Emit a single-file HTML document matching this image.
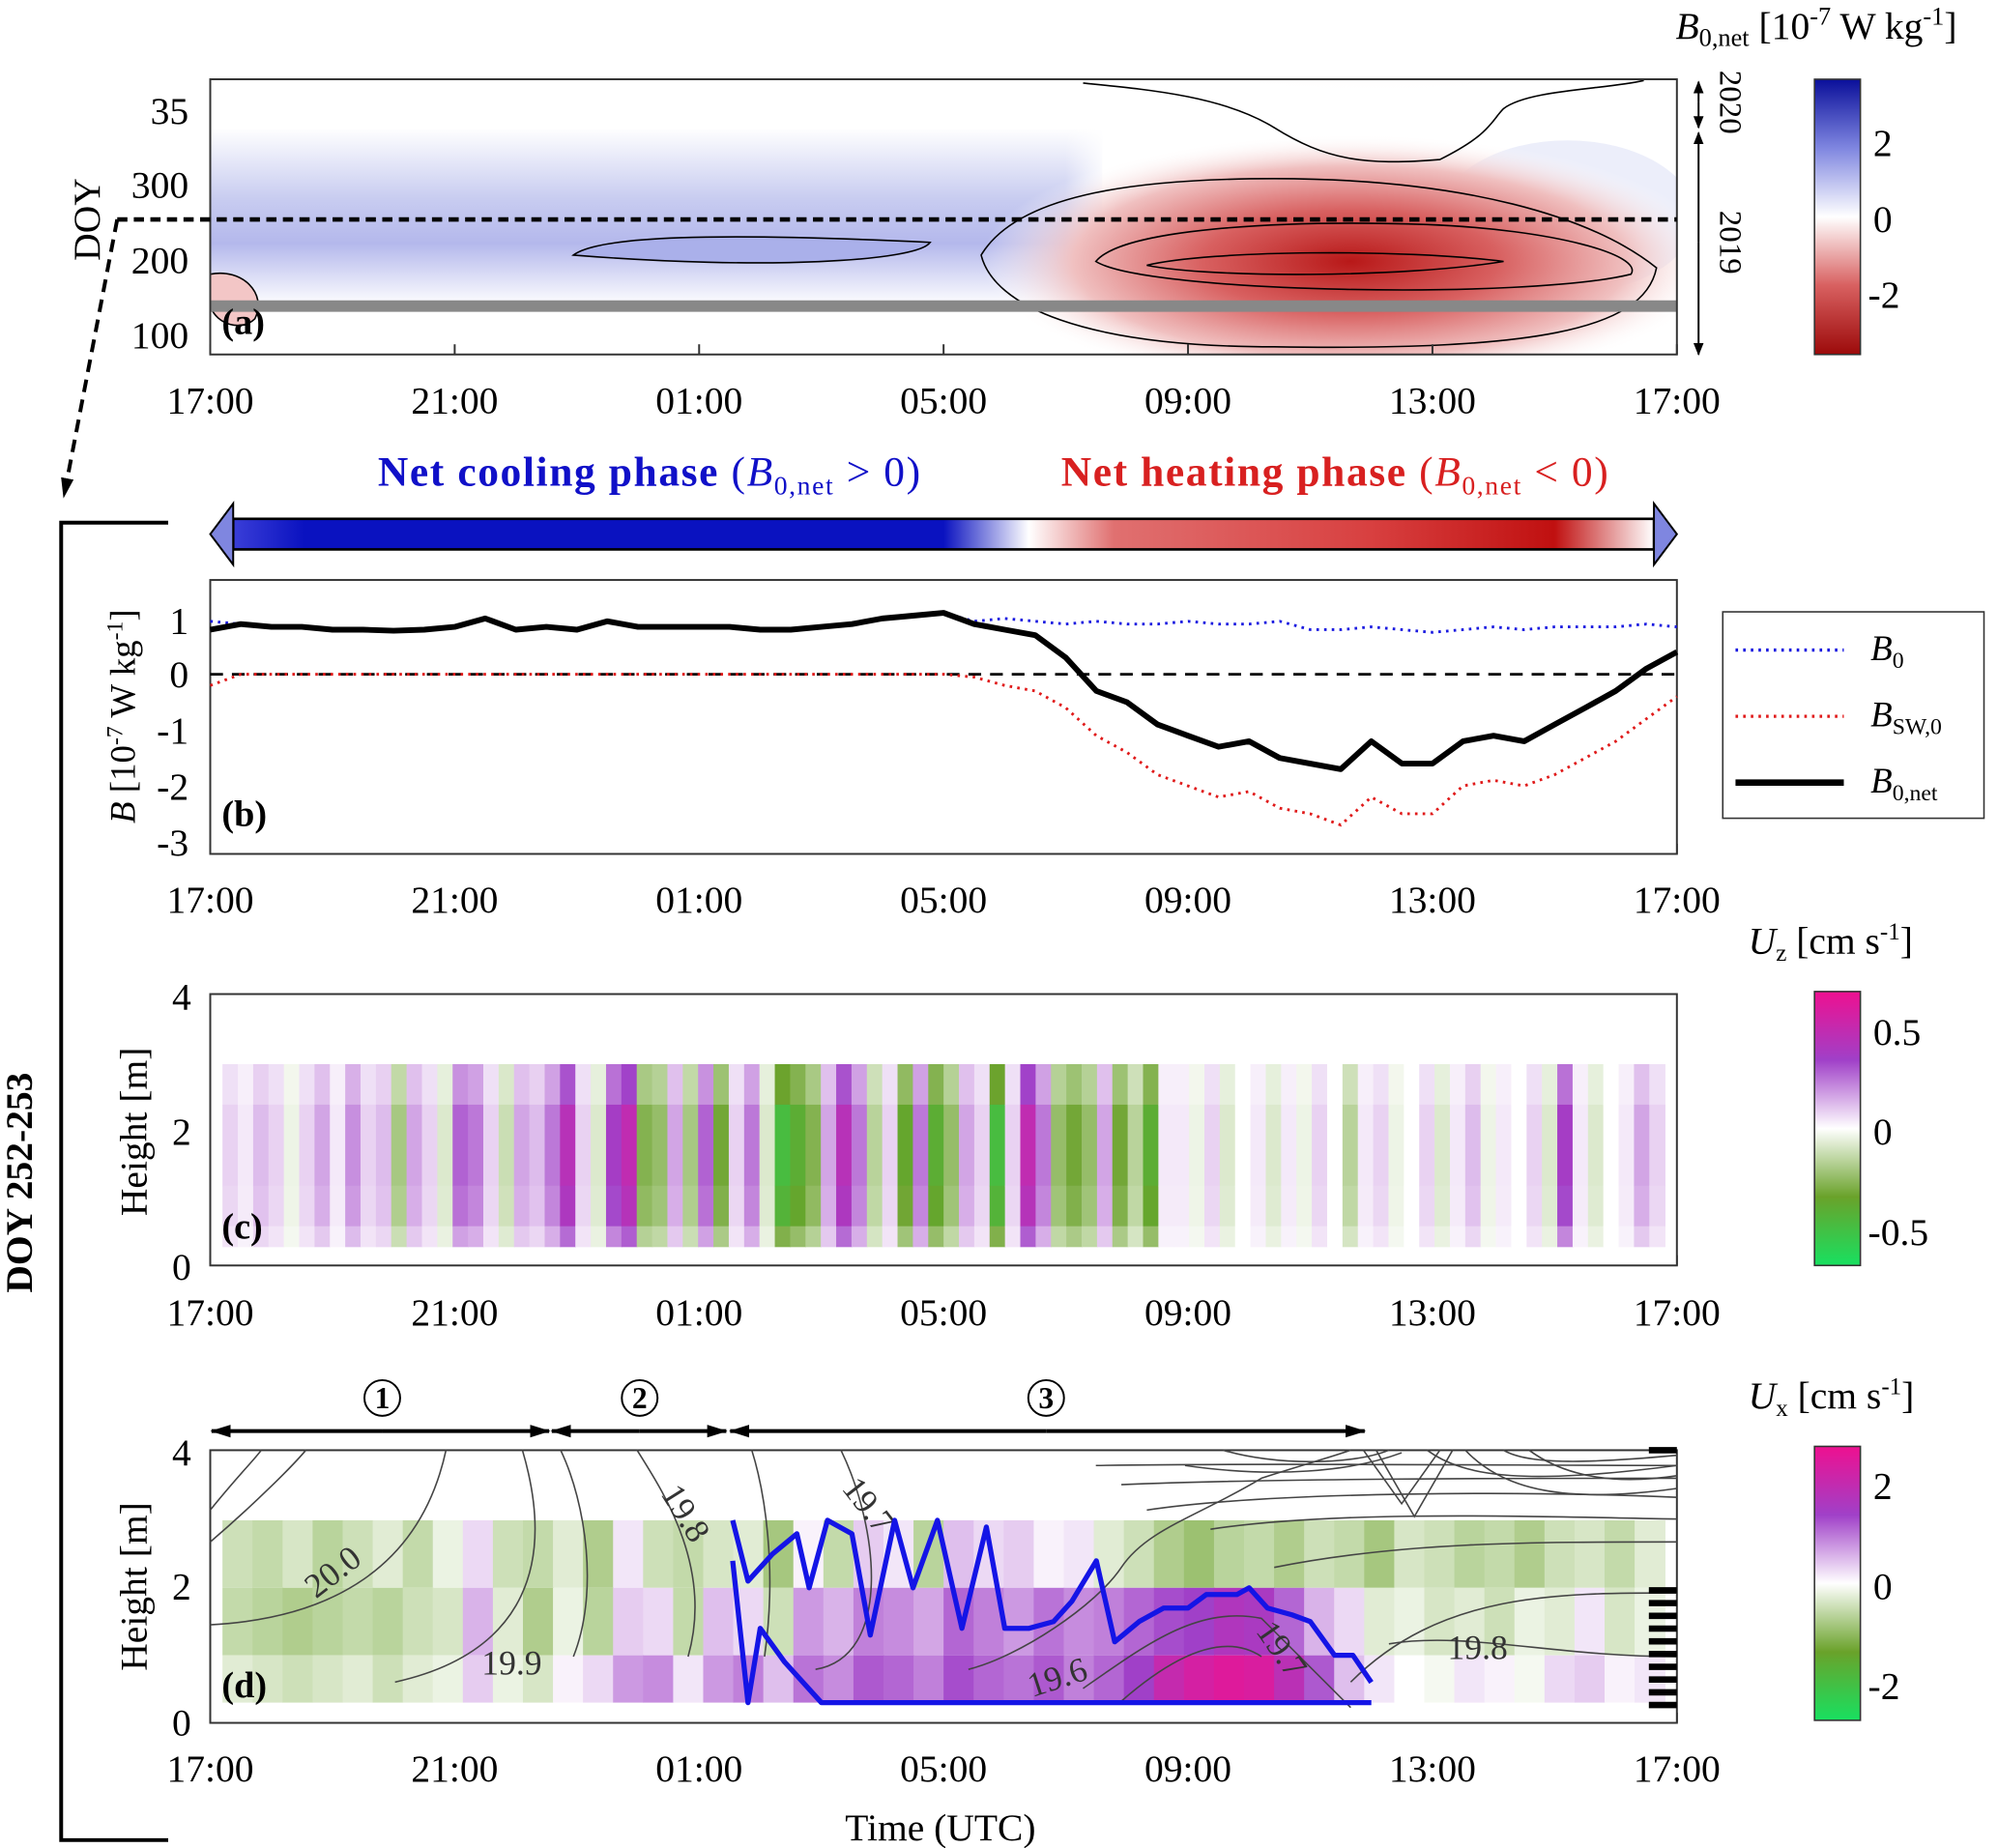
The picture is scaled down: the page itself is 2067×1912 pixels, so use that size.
<!DOCTYPE html>
<html><head><meta charset="utf-8"><style>
html,body{margin:0;padding:0;background:#fff}
svg{display:block;font-family:"Liberation Serif","DejaVu Serif",serif}
</style></head><body>
<svg id="fig" width="2067" height="1912" viewBox="0 0 1568 1450" xmlns="http://www.w3.org/2000/svg">
<defs>
<linearGradient id="cbB" x1="0" y1="1" x2="0" y2="0"><stop offset="0" stop-color="#9c0a0a"/><stop offset="0.25" stop-color="#d86060"/><stop offset="0.5" stop-color="#ffffff"/><stop offset="0.75" stop-color="#7f86e0"/><stop offset="1" stop-color="#0a0f9a"/></linearGradient>
<linearGradient id="cbU" x1="0" y1="1" x2="0" y2="0"><stop offset="0" stop-color="#18e060"/><stop offset="0.25" stop-color="#6aa22a"/><stop offset="0.5" stop-color="#ffffff"/><stop offset="0.75" stop-color="#a040c8"/><stop offset="1" stop-color="#ee1090"/></linearGradient>
<linearGradient id="phase" x1="0" y1="0" x2="1" y2="0"><stop offset="0" stop-color="#3a3ed8"/><stop offset="0.05" stop-color="#0a12c0"/><stop offset="0.5" stop-color="#0a12c0"/><stop offset="0.56" stop-color="#fff"/><stop offset="0.62" stop-color="#e07070"/><stop offset="0.8" stop-color="#d84040"/><stop offset="0.93" stop-color="#c01010"/><stop offset="1" stop-color="#fff"/></linearGradient>
<radialGradient id="redBlob" cx="0.5" cy="0.5" r="0.5"><stop offset="0" stop-color="#b81818"/><stop offset="0.4" stop-color="#d86060"/><stop offset="0.75" stop-color="#f0c0c0"/><stop offset="1" stop-color="#fff" stop-opacity="0"/></radialGradient>
<linearGradient id="blueBand" x1="0" y1="0" x2="0" y2="1"><stop offset="0" stop-color="#fff"/><stop offset="0.4" stop-color="#c8ccf0"/><stop offset="0.65" stop-color="#b4b8ec"/><stop offset="1" stop-color="#fff"/></linearGradient>
<linearGradient id="blueFade" x1="0" y1="0" x2="1" y2="0"><stop offset="0" stop-color="#fff" stop-opacity="0"/><stop offset="0.8" stop-color="#fff" stop-opacity="0"/><stop offset="1" stop-color="#fff" stop-opacity="1"/></linearGradient>
<radialGradient id="pinkTop" cx="0.5" cy="0" r="0.6"><stop offset="0" stop-color="#f6d2d2"/><stop offset="1" stop-color="#fff" stop-opacity="0"/></radialGradient>
<clipPath id="clipA"><rect x="165" y="62" width="1151" height="216"/></clipPath>
<marker id="ah" markerUnits="userSpaceOnUse" markerWidth="16" markerHeight="12" refX="15" refY="6" orient="auto"><path d="M0,1 L16,6 L0,11 Z" fill="#000"/></marker>
<marker id="ahs" markerUnits="userSpaceOnUse" markerWidth="10" markerHeight="10" refX="9" refY="5" orient="auto"><path d="M0,1 L10,5 L0,9 Z" fill="#000"/></marker>
</defs>

<g>
 <g clip-path="url(#clipA)">
  <rect x="165" y="62" width="1151" height="216" fill="#fff"/>
  <rect x="165" y="100" width="700" height="140" fill="url(#blueBand)"/>
  <rect x="700" y="100" width="170" height="140" fill="url(#blueFade)"/>
  <ellipse cx="1230" cy="170" rx="100" ry="60" fill="#eceefa"/>
  <ellipse cx="1080" cy="62" rx="260" ry="70" fill="url(#pinkTop)"/>
  <ellipse cx="1060" cy="205" rx="290" ry="100" fill="url(#redBlob)"/>
  <path d="M450,200 C470,185 560,182 730,190 C720,205 600,212 450,200 Z" fill="#aab0ea" stroke="#000" stroke-width="1.2"/>
  <path d="M770,200 C800,150 900,140 1000,140 C1150,140 1250,170 1300,210 C1290,260 1200,275 1000,272 C850,272 780,240 770,200 Z" fill="none" stroke="#000" stroke-width="1.2"/>
  <path d="M860,205 C880,180 1000,172 1120,176 C1220,180 1290,200 1280,215 C1200,235 900,230 860,205 Z" fill="none" stroke="#000" stroke-width="1.2"/>
  <path d="M900,208 C950,196 1100,195 1180,205 C1100,218 950,218 900,208 Z" fill="none" stroke="#000" stroke-width="1.2"/>
  <path d="M850,65 C900,70 960,75 1000,100 C1040,125 1070,130 1130,125 C1170,105 1170,95 1180,85 C1200,70 1260,70 1290,63" fill="none" stroke="#000" stroke-width="1.2"/>
  <path d="M165,215 C190,210 210,230 200,250 C190,260 170,255 165,240" fill="#f3c6c6" stroke="#000" stroke-width="1.2"/>
  <line x1="165" y1="240" x2="1316" y2="240" stroke="#888" stroke-width="9"/>
 </g>
 <rect x="165" y="62" width="1151" height="216" fill="none" stroke="#333" stroke-width="1.5"/>
 <line x1="92" y1="172" x2="1316" y2="172" stroke="#000" stroke-width="3.5" stroke-dasharray="8,5"/>
 <g font-size="30" text-anchor="end">
  <text x="148" y="97">35</text><text x="148" y="155">300</text><text x="148" y="214">200</text><text x="148" y="273">100</text>
 </g>
 <text transform="translate(78,172) rotate(-90)" font-size="30" text-anchor="middle">DOY</text>
 <text x="174" y="262" font-size="29" font-weight="bold">(a)</text>
 <g stroke="#000" stroke-width="1.5">
  <line x1="1333" y1="80" x2="1333" y2="64" marker-end="url(#ahs)"/><line x1="1333" y1="80" x2="1333" y2="100" marker-end="url(#ahs)"/>
  <line x1="1333" y1="190" x2="1333" y2="104" marker-end="url(#ahs)"/><line x1="1333" y1="190" x2="1333" y2="278" marker-end="url(#ahs)"/>
 </g>
 <text transform="translate(1350,80) rotate(90)" font-size="25" text-anchor="middle">2020</text>
 <text transform="translate(1350,190) rotate(90)" font-size="25" text-anchor="middle">2019</text>
 <rect x="1424" y="62" width="36" height="216" fill="url(#cbB)" stroke="#333" stroke-width="1.2"/>
 <g font-size="30"><text x="1470" y="122">2</text><text x="1470" y="182">0</text><text x="1466" y="241">-2</text></g>
 <text x="1315" y="30" font-size="30"><tspan font-style="italic">B</tspan><tspan font-size="20" dy="6">0,net</tspan><tspan dy="-6"> [10</tspan><tspan font-size="20" dy="-11">-7</tspan><tspan dy="11"> W kg</tspan><tspan font-size="20" dy="-11">-1</tspan><tspan dy="11">]</tspan></text>
</g>
<g id="xticksAll" font-size="30" text-anchor="middle"></g>

<line x1="92" y1="172" x2="50" y2="390" stroke="#000" stroke-width="3" stroke-dasharray="10,6" marker-end="url(#ah)"/>
<path d="M132,410 L48,410 L48,1444 L132,1444" fill="none" stroke="#000" stroke-width="3"/>
<text transform="translate(25,928) rotate(-90)" font-size="30" font-weight="bold" text-anchor="middle">DOY 252-253</text>

<text x="510" y="381" font-size="33" letter-spacing="1.2" font-weight="bold" fill="#1010c8" text-anchor="middle">Net cooling phase <tspan font-weight="normal">(<tspan font-style="italic">B</tspan><tspan font-size="21" dy="7">0,net</tspan><tspan dy="-7"> &gt; 0)</tspan></tspan></text>
<text x="1048" y="381" font-size="33" letter-spacing="1.2" font-weight="bold" fill="#d82020" text-anchor="middle">Net heating phase <tspan font-weight="normal">(<tspan font-style="italic">B</tspan><tspan font-size="21" dy="7">0,net</tspan><tspan dy="-7"> &lt; 0)</tspan></tspan></text>
<g>
 <rect x="183" y="407" width="1115" height="24" fill="url(#phase)" stroke="#000" stroke-width="2"/>
 <path d="M183,395 L165,419 L183,443 Z" fill="#7f86e0" stroke="#000" stroke-width="1.5"/>
 <path d="M1298,395 L1316,419 L1298,443 Z" fill="#7f86e0" stroke="#000" stroke-width="1.5"/>
</g>

<g id="panelB">
 <rect x="165" y="455" width="1151" height="215" fill="#fff" stroke="#333" stroke-width="1.5"/>
 <line x1="165" y1="529" x2="1316" y2="529" stroke="#000" stroke-width="2" stroke-dasharray="10,7"/>
 <g font-size="30" text-anchor="end">
  <text x="148" y="497">1</text><text x="148" y="539">0</text><text x="148" y="583">-1</text><text x="148" y="627">-2</text><text x="148" y="671">-3</text>
 </g>
 <text transform="translate(106,562) rotate(-90)" font-size="28" text-anchor="middle"><tspan font-style="italic">B</tspan> [10<tspan font-size="18" dy="-10">-7</tspan><tspan dy="10">  W kg</tspan><tspan font-size="18" dy="-10">-1</tspan><tspan dy="10">]</tspan></text>
 <text x="174" y="648" font-size="29" font-weight="bold">(b)</text>
 <g>
  <rect x="1352" y="480" width="205" height="162" fill="#fff" stroke="#333" stroke-width="1.2"/>
  <line x1="1362" y1="510" x2="1447" y2="510" stroke="#1a1ae0" stroke-width="2.5" stroke-dasharray="2,4"/>
  <text x="1468" y="518" font-size="28" font-style="italic">B<tspan font-size="18" dy="6" font-style="normal">0</tspan></text>
  <line x1="1362" y1="562" x2="1447" y2="562" stroke="#e01a1a" stroke-width="2.5" stroke-dasharray="2,4"/>
  <text x="1468" y="570" font-size="28" font-style="italic">B<tspan font-size="18" dy="6" font-style="normal">SW,0</tspan></text>
  <line x1="1362" y1="614" x2="1447" y2="614" stroke="#000" stroke-width="5"/>
  <text x="1468" y="622" font-size="28" font-style="italic">B<tspan font-size="18" dy="6" font-style="normal">0,net</tspan></text>
 </g>
</g>

<g id="panelC">
 <rect x="165" y="780" width="1151" height="213" fill="#fff" stroke="#333" stroke-width="1.5"/>
 <g id="uzCells"></g>
 <g font-size="30" text-anchor="end"><text x="150" y="792">4</text><text x="150" y="898">2</text><text x="150" y="1004">0</text></g>
 <text transform="translate(115,888) rotate(-90)" font-size="30" text-anchor="middle">Height [m]</text>
 <text x="174" y="972" font-size="29" font-weight="bold">(c)</text>
 <rect x="1424" y="778" width="36" height="215" fill="url(#cbU)" stroke="#333" stroke-width="1.2"/>
 <g font-size="30"><text x="1470" y="820">0.5</text><text x="1470" y="898">0</text><text x="1466" y="977">-0.5</text></g>
 <text x="1372" y="748" font-size="30"><tspan font-style="italic">U</tspan><tspan font-size="19" dy="6">z</tspan><tspan dy="-6">  [cm s</tspan><tspan font-size="19" dy="-11">-1</tspan><tspan dy="11">]</tspan></text>
</g>

<g id="panelD">
 <rect x="165" y="1138" width="1151" height="214" fill="#fff" stroke="#333" stroke-width="1.5"/>
 <g id="uxCells"></g>
 <g fill="none" stroke="#444" stroke-width="1.2">
  <path d="M165,1210 C200,1180 230,1150 240,1138"/><path d="M165,1185 C185,1160 200,1145 205,1138"/>
  <path d="M165,1275 C260,1270 330,1230 350,1138"/>
  <path d="M310,1320 C400,1300 440,1240 410,1138"/>
  <path d="M450,1300 C470,1250 460,1180 440,1138"/>
  <path d="M540,1300 C560,1230 520,1170 500,1138"/>
  <path d="M600,1300 C610,1230 600,1170 590,1138"/>
  <path d="M640,1310 C700,1300 690,1200 660,1138"/>
  <path d="M760,1310 C800,1300 860,1260 880,1230 C900,1200 940,1190 990,1160 C1020,1150 1040,1145 1060,1138"/>
  <path d="M850,1325 C900,1290 940,1260 990,1270 C1020,1300 1040,1320 1060,1340"/>
  <path d="M880,1335 C920,1300 960,1280 990,1300"/>
  <path d="M1090,1290 C1150,1280 1220,1300 1316,1300"/>
  <path d="M1060,1320 C1130,1250 1220,1250 1316,1250"/>
  <path d="M1000,1230 C1100,1210 1200,1210 1316,1210"/>
  <path d="M950,1200 C1050,1185 1200,1190 1316,1192"/>
  <path d="M900,1185 C1000,1170 1200,1170 1316,1175"/>
  <path d="M880,1165 C1000,1160 1200,1160 1316,1160"/>
  <path d="M860,1150 C1000,1148 1200,1150 1316,1150"/>
  <path d="M1070,1138 L1100,1180 L1130,1138"/><path d="M1080,1138 L1110,1190 L1140,1138"/>
  <path d="M1120,1138 C1150,1160 1200,1165 1316,1150"/><path d="M1180,1138 C1200,1150 1250,1148 1316,1142"/>
  <path d="M960,1138 C1000,1150 1060,1150 1090,1138"/><path d="M930,1150 C1000,1160 1060,1155 1100,1140"/>
  <path d="M1150,1138 C1180,1170 1230,1180 1316,1168"/><path d="M1200,1138 C1230,1160 1270,1165 1316,1158"/>
 </g>
 <g font-size="27" fill="#333">
  <text transform="translate(248,1255) rotate(-38)">20.0</text>
  <text x="378" y="1314">19.9</text>
  <text transform="translate(518,1172) rotate(58)">19.8</text>
  <text transform="translate(660,1168) rotate(52)">19.7</text>
  <text transform="translate(810,1332) rotate(-18)">19.6</text>
  <text transform="translate(985,1280) rotate(55)">19.7</text>
  <text x="1136" y="1302">19.8</text>
 </g>
 <g id="blueLines"></g>
 <g stroke="#000" stroke-width="5" id="depthMarks"><line x1="1294" y1="1138" x2="1316" y2="1138"/></g>
 <g font-size="30" text-anchor="end"><text x="150" y="1150">4</text><text x="150" y="1255">2</text><text x="150" y="1362">0</text></g>
 <text transform="translate(115,1245) rotate(-90)" font-size="30" text-anchor="middle">Height [m]</text>
 <text x="174" y="1332" font-size="29" font-weight="bold">(d)</text>
 <rect x="1424" y="1135" width="36" height="215" fill="url(#cbU)" stroke="#333" stroke-width="1.2"/>
 <g font-size="30"><text x="1470" y="1176">2</text><text x="1470" y="1255">0</text><text x="1466" y="1333">-2</text></g>
 <text x="1372" y="1105" font-size="30"><tspan font-style="italic">U</tspan><tspan font-size="19" dy="6">x</tspan><tspan dy="-6">  [cm s</tspan><tspan font-size="19" dy="-11">-1</tspan><tspan dy="11">]</tspan></text>
 <text x="738" y="1444" font-size="30" text-anchor="middle">Time (UTC)</text>
 <g stroke="#000" stroke-width="3">
  <line x1="300" y1="1123" x2="166" y2="1123" marker-end="url(#ah)"/><line x1="300" y1="1123" x2="431" y2="1123" marker-end="url(#ah)"/>
  <line x1="502" y1="1123" x2="433" y2="1123" marker-end="url(#ah)"/><line x1="502" y1="1123" x2="570" y2="1123" marker-end="url(#ah)"/>
  <line x1="821" y1="1123" x2="573" y2="1123" marker-end="url(#ah)"/><line x1="821" y1="1123" x2="1071" y2="1123" marker-end="url(#ah)"/>
 </g>
 <g font-size="24" font-weight="bold" text-anchor="middle">
  <circle cx="300" cy="1097" r="14" fill="#fff" stroke="#000" stroke-width="1.5"/><text x="300" y="1105">1</text>
  <circle cx="502" cy="1097" r="14" fill="#fff" stroke="#000" stroke-width="1.5"/><text x="502" y="1105">2</text>
  <circle cx="821" cy="1097" r="14" fill="#fff" stroke="#000" stroke-width="1.5"/><text x="821" y="1105">3</text>
 </g>
</g>
</svg>

<script>
const tickLabels = ["17:00","21:00","01:00","05:00","09:00","13:00","17:00"];
const tickHours = [0,4,8,12,16,20,24];
const bHours = [0,0.5,1,1.5,2,2.5,3,3.5,4,4.5,5,5.5,6,6.5,7,7.5,8,8.5,9,9.5,10,10.5,11,11.5,12,12.5,13,13.5,14,14.5,15,15.5,16,16.5,17,17.5,18,18.5,19,19.5,20,20.5,21,21.5,22,22.5,23,23.5,24];
const bNet = [0.8,0.9,0.85,0.85,0.8,0.8,0.78,0.8,0.85,1.0,0.8,0.85,0.8,0.95,0.85,0.85,0.85,0.85,0.8,0.8,0.85,0.9,1.0,1.05,1.1,0.9,0.8,0.7,0.3,-0.3,-0.5,-0.9,-1.1,-1.3,-1.2,-1.5,-1.6,-1.7,-1.2,-1.6,-1.6,-1.2,-1.1,-1.2,-0.9,-0.6,-0.3,0.1,0.4];
const b0 = [0.95,0.9,0.85,0.85,0.8,0.8,0.78,0.8,0.85,1.0,0.8,0.85,0.8,0.95,0.85,0.85,0.85,0.85,0.8,0.8,0.85,0.9,1.0,1.05,1.1,0.95,1.0,0.95,0.9,0.95,0.9,0.9,0.95,0.9,0.9,0.95,0.8,0.8,0.85,0.8,0.75,0.8,0.85,0.8,0.85,0.85,0.85,0.9,0.85];
const bSW = [-0.2,0,0,0,0,0,0,0,0,0,0,0,0,0,0,0,0,0,0,0,0,0,0,0,0,-0.05,-0.2,-0.3,-0.6,-1.1,-1.4,-1.8,-2.0,-2.2,-2.1,-2.4,-2.5,-2.7,-2.2,-2.5,-2.5,-2.0,-1.9,-2.0,-1.8,-1.5,-1.2,-0.8,-0.4];
const uzVals = [0.1,0.05,0.15,0.1,-0.05,0.1,0.2,0.05,0.25,0.1,0.15,-0.25,0.2,0.1,-0.1,0.35,0.3,0.1,-0.15,0.2,
0.15,0.3,0.55,0.1,-0.1,0.45,0.6,-0.35,-0.3,0.2,-0.25,0.35,-0.4,0.1,0.3,-0.1,
-0.6,-0.5,-0.35,0.2,0.55,0.3,-0.2,0.1,-0.45,0.3,-0.5,-0.3,0.2,0.1,-0.6,0.1,0.6,0.3,-0.3,-0.4,-0.3,0.2,-0.4,-0.2,-0.5,0.05,
0.05,-0.05,0.1,-0.1,0.0,0.05,-0.1,0.05,-0.05,0.1,0.0,-0.2,0.05,0.1,-0.05,0.0,0.1,-0.1,0.05,0.15,-0.05,0.05,0.0,0.1,-0.1,0.45,0.05,-0.1,0.0,0.05,0.2,0.1];
const uxTop = [-0.5,-0.6,-0.4,-0.7,-0.5,-0.3,-0.6,-0.2,0.3,-0.5,-0.6,-0.3,-0.8,0.2,-0.5,-0.6,-0.4,-0.3,-0.9,0.1,-0.6,0.4,0.2,-0.7,0.5,0.3,0.4,0.1,0.2,-0.3,-0.5,-0.8,-1.0,-0.7,-0.6,-0.8,-0.5,-0.6,-0.9,-0.4,-0.5,-0.7,-0.6,-0.8,-0.5,-0.4,-0.6,-0.3];
const uxMid = [-0.6,-0.7,-0.8,-0.7,-0.6,-0.7,-0.5,-0.4,0.6,-0.3,-0.8,-0.2,-0.7,0.4,0.3,-0.6,0.5,0.3,-0.5,0.8,0.6,1.0,0.9,0.7,1.2,1.0,0.8,1.1,0.9,1.0,1.2,1.4,1.5,1.8,1.7,1.2,0.6,0.3,-0.3,-0.2,-0.4,-0.3,-0.5,-0.2,-0.3,0.2,-0.4,-0.2];
const uxBot = [-0.3,-0.4,-0.5,-0.4,-0.3,-0.5,-0.3,-0.2,0.4,-0.2,-0.4,0.1,0.3,0.8,0.9,0.2,0.8,1.0,0.5,1.1,0.9,1.3,1.2,1.0,1.4,1.2,1.1,1.3,1.0,1.2,1.5,2.2,2.5,2.7,2.6,2.0,1.3,0.5,0.2,0.0,-0.1,0.2,0.1,-0.1,0.3,0.4,0.1,0.2];
const uxLayerTop = [3.0,2.0,1.0];
const uxLayerBot = [2.0,1.0,0.3];
const upHours = [8.55,8.8,9.2,9.6,9.8,10.1,10.5,10.8,11.2,11.5,11.9,12.3,12.7,13.0,13.4,13.8,14.1,14.5,14.8,15.2,15.6,16.0,16.3,16.8,17.0,17.3,17.7,18.0,18.4,18.7,19.0];
const upDepth = [3.0,2.1,2.5,2.8,2.0,3.0,2.8,1.3,3.0,2.0,3.0,1.4,2.9,1.4,1.4,1.5,1.8,2.4,1.2,1.5,1.7,1.7,1.9,1.9,2.0,1.7,1.6,1.5,1.0,1.0,0.6];
const loHours = [8.55,8.8,9.0,9.4,9.7,10.0,19.0];
const loDepth = [2.4,0.3,1.4,0.9,0.6,0.3,0.3];

const NS = "http://www.w3.org/2000/svg";
const X = t => 165 + t * 1151 / 24;
const YB = v => 529 - v * 43.8;
const YC = h => 994 - h * 53;
const YD = h => 1352 - h * 53;
function mk(tag, attrs, parent){const e=document.createElementNS(NS,tag);for(const k in attrs)e.setAttribute(k,attrs[k]);parent.appendChild(e);return e;}
function lerp(a,b,f){return a.map((v,i)=>Math.round(v+(b[i]-v)*f));}
function divColor(v, lim){
  const stops=[[-1,[24,224,96]],[-0.5,[106,162,42]],[0,[255,255,255]],[0.5,[160,64,200]],[1,[238,16,144]]];
  const f=Math.max(-1,Math.min(1,v/lim));
  for(let i=0;i<stops.length-1;i++){if(f<=stops[i+1][0]){const g=(f-stops[i][0])/(stops[i+1][0]-stops[i][0]);const c=lerp(stops[i][1],stops[i+1][1],g);return 'rgb('+c.join(',')+')';}}
  return 'rgb(238,16,144)';
}
const xt = document.getElementById('xticksAll');
[[278,62,324],[670,455,716],[993,780,1040],[1352,1138,1398]].forEach(([yb,yt,ly])=>{
  tickHours.forEach((h,i)=>{
    const tx=mk('text',{x:X(h),y:ly},xt); tx.textContent=tickLabels[i];
    
    
    const l=mk('line',{x1:X(h),x2:X(h),y1:yb,y2:yb-8,stroke:'#333','stroke-width':1.5},xt);
    
    
  });
});
const pb = document.getElementById('panelB');
function line(vals, style, name){
  const d = vals.map((v,i)=>(i?'L':'M')+X(bHours[i]).toFixed(1)+','+YB(v).toFixed(1)).join(' ');
  const p = mk('path',Object.assign({d:d,fill:'none'},style),pb);
  
  
}
line(b0,{stroke:'#1a1ae0','stroke-width':2.2,'stroke-dasharray':'2,4'},'b0-line');
line(bSW,{stroke:'#e01a1a','stroke-width':2.2,'stroke-dasharray':'2,4'},'bsw0-line');
line(bNet,{stroke:'#000','stroke-width':4.5,'stroke-linejoin':'round'},'b0net-line');
const uc = document.getElementById('uzCells');
const t0=0.2, t1=23.8, wc=(t1-t0)/uzVals.length;
const uzRowH = [3.0,2.4,1.2,0.6,0.3];
const uzRowF = [0.7,1.0,0.9,0.6];
uzVals.forEach((v,i)=>{
  for(let k=0;k<4;k++){
    const r=mk('rect',{x:X(t0+i*wc),y:YC(uzRowH[k]),width:(X(wc)-165)+0.6,height:YC(uzRowH[k+1])-YC(uzRowH[k])+0.5,fill:divColor(v*uzRowF[k],0.85)},uc);
    
    
  }
});
const ux = document.getElementById('uxCells');
const wd=(t1-t0)/uxTop.length;
[uxTop,uxMid,uxBot].forEach((arr,k)=>{
  arr.forEach((v,i)=>{
    const r=mk('rect',{x:X(t0+i*wd),y:YD(uxLayerTop[k]),width:(X(wd)-165)+0.6,height:YD(uxLayerBot[k])-YD(uxLayerTop[k]),fill:divColor(v,3.0)},ux);
    
    
  });
});
const bl = document.getElementById('blueLines');
[[upHours,upDepth,'upper-boundary-line'],[loHours,loDepth,'lower-boundary-line']].forEach(([hs,ds,nm])=>{
  const d = hs.map((h,i)=>(i?'L':'M')+X(h).toFixed(1)+','+YD(ds[i]).toFixed(1)).join(' ');
  const p=mk('path',{d:d,fill:'none',stroke:'#1414e6','stroke-width':4,'stroke-linejoin':'round'},bl);
  
  
});
const dm=document.getElementById('depthMarks');
for(let y=1248;y<=1346;y+=10){mk('line',{x1:1294,x2:1316,y1:y,y2:y},dm);}
</script>
</body></html>
